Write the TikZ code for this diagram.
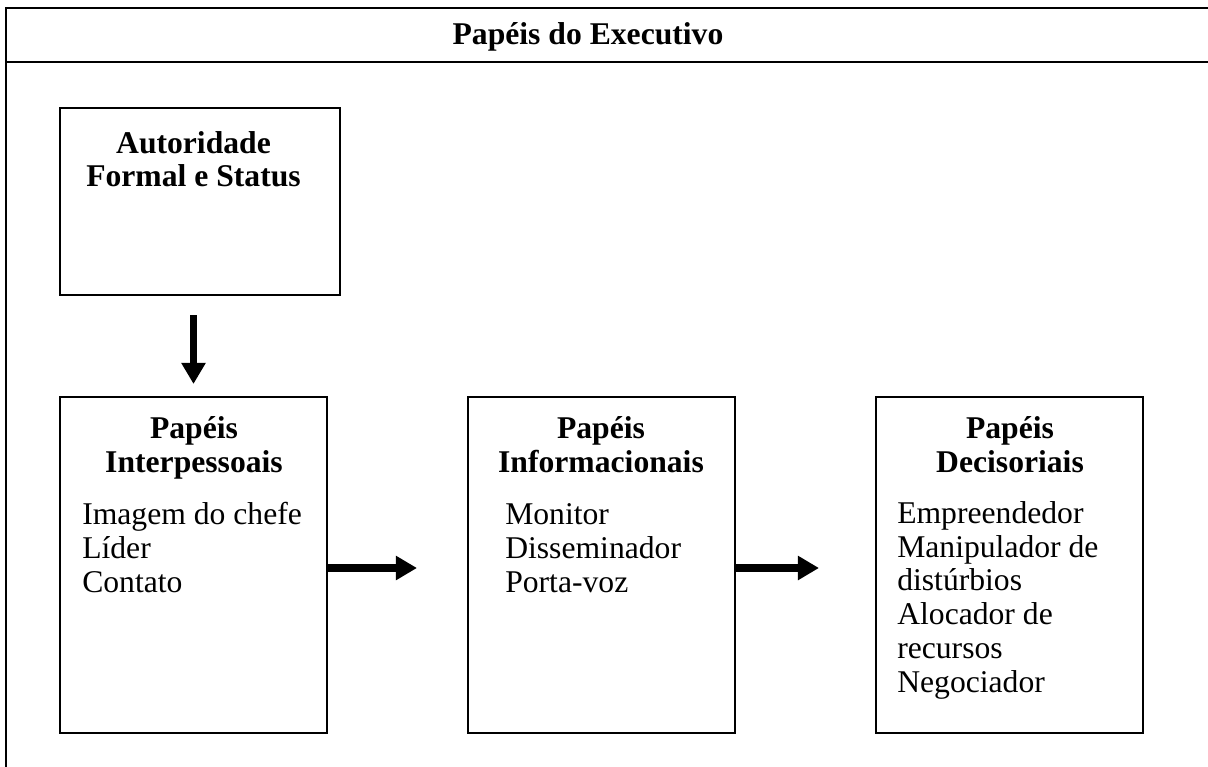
\documentclass[tikz,border=0pt]{standalone}
\usepackage{fontspec}
\setmainfont{Liberation Serif}
\usetikzlibrary{arrows.meta}
\newcommand{\tamanho}{\fontsize{22.5}{24}\selectfont}
\tikzset{
  caixa/.style={draw, line width=1.4pt, minimum width=6.675cm, minimum height=8.4cm, inner sep=0pt},
  cabec/.style={font=\tamanho\bfseries, align=center, anchor=base, inner sep=0pt},
  lista/.style={font=\tamanho, align=left, anchor=base west, inner sep=0pt},
  seta/.style={line width=5pt, -{Triangle[length=5.25mm,width=5.75mm]}}}

\begin{document}
\begin{tikzpicture}[x=0.025cm, y=-0.025cm]
  \useasboundingbox (0,0) rectangle (1208,767);
  % moldura da tabela
  \draw[line width=1.6pt] (1208,8) -- (6,8) -- (6,767);
  \draw[line width=1.6pt] (6,62) -- (1208,62);
  \node[cabec] (titulo) at (588,45) {Papéis do Executivo};

  % caixas
  \node[caixa, minimum width=7cm, minimum height=4.675cm] (auth) at (200,201.5) {};
  \node[caixa] (inter)  at (193.5,565) {};
  \node[caixa] (inform) at (601.5,565) {};
  \node[caixa] (decis)  at (1009.5,565) {};

  % textos (base = ultima linha)
  \node[cabec] (authT)   at (193.5,187) {Autoridade\\Formal e Status};
  \node[cabec] (interT)  at (194,472)   {Papéis\\Interpessoais};
  \node[cabec] (informT) at (601,472)   {Papéis\\Informacionais};
  \node[cabec] (decisT)  at (1010,472)  {Papéis\\Decisoriais};
  \node[lista] (interL)  at (82,592)  {Imagem do chefe\\Líder\\Contato};
  \node[lista] (informL) at (505,592) {Monitor\\Disseminador\\Porta-voz};
  \node[lista] (decisL)  at (897,692) {Empreendedor\\Manipulador de\\distúrbios\\Alocador de\\recursos\\Negociador};

  % setas
  \draw[seta, shorten <=0.475cm, shorten >=0.3cm] (inter.north |- auth.south) -- (inter.north);
  \draw[seta, shorten >=1.25cm] ([yshift=-0.075cm]inter.east) -- ([yshift=-0.075cm]inform.west);
  \draw[seta, shorten >=1.4cm] ([yshift=-0.075cm]inform.east) -- ([yshift=-0.075cm]decis.west);
\end{tikzpicture}
\end{document}
